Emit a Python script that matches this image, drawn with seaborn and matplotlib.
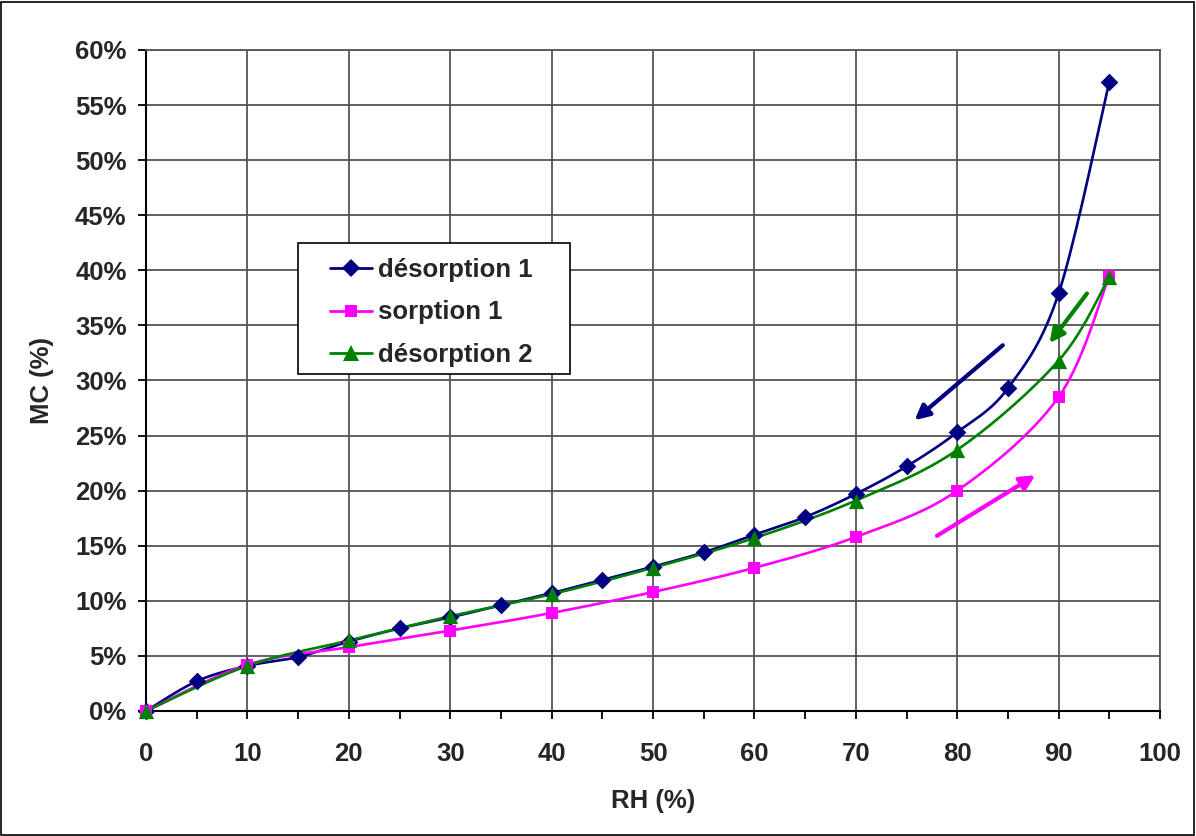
import numpy as np
import pandas as pd
import matplotlib
matplotlib.use("Agg")
import matplotlib.pyplot as plt
import seaborn as sns
from matplotlib.lines import Line2D
from matplotlib.patches import Rectangle

# ---- data ----
rh_des1 = [0, 5, 10, 15, 20, 25, 30, 35, 40, 45, 50, 55, 60, 65, 70, 75, 80, 85, 90, 95]
mc_des1 = [0, 2.7, 4.1, 4.9, 6.3, 7.5, 8.5, 9.6, 10.7, 11.9, 13.1, 14.4, 16.0, 17.6, 19.7, 22.2, 25.3, 29.3, 37.9, 57.1]
rh_sorp1 = [0, 10, 20, 30, 40, 50, 60, 70, 80, 90, 95]
mc_sorp1 = [0, 4.2, 5.8, 7.3, 8.9, 10.8, 13.0, 15.8, 20.0, 28.5, 39.5]
rh_des2 = [0, 10, 20, 30, 40, 50, 60, 70, 80, 90, 95]
mc_des2 = [0, 4.1, 6.4, 8.6, 10.6, 13.0, 15.7, 19.1, 23.7, 31.8, 39.4]
series_names = ["désorption 1", "sorption 1", "désorption 2"]
colors = ["#000080", "#FF00FF", "#008000"]
markers = ["D", "s", "^"]
msizes = [9, 9, 11]

x_ticks = list(range(0, 101, 10))
y_ticks = list(range(0, 61, 5))

FS = 18.5

sns.set_theme(style="white")
plt.rcParams['font.family'] = ['Liberation Sans', 'DejaVu Sans']
plt.rcParams['font.weight'] = 'bold'

fig = plt.figure(figsize=(11.96, 8.36), dpi=100)
ax = fig.add_axes([146/1196, 125/836, 1014/1196, 661/836])

# smooth (Excel-like Bezier) rendering of a line through the data points
def smooth(xs, ys, sx=10.14, sy=11.0, n=20):
    P = np.column_stack([np.asarray(xs, float) * sx, np.asarray(ys, float) * sy])
    out = [P[0]]
    for i in range(len(P) - 1):
        p0 = P[i - 1] if i > 0 else P[i]
        p1, p2 = P[i], P[i + 1]
        p3 = P[i + 2] if i + 2 < len(P) else P[i + 1]
        c1 = p1 + (p2 - p0) / 6.0
        c2 = p2 - (p3 - p1) / 6.0
        t = np.linspace(0, 1, n)[1:, None]
        seg = ((1 - t) ** 3) * p1 + 3 * ((1 - t) ** 2) * t * c1 + 3 * (1 - t) * t ** 2 * c2 + t ** 3 * p2
        out.extend(seg)
    out = np.array(out)
    return out[:, 0] / sx, out[:, 1] / sy

frames = []
for name, xs, ys in zip(series_names, [rh_des1, rh_sorp1, rh_des2], [mc_des1, mc_sorp1, mc_des2]):
    frames.append(pd.DataFrame({"RH": xs, "MC": ys, "serie": name}))
df = pd.concat(frames, ignore_index=True)

for name, c, m, ms in zip(series_names, colors, markers, msizes):
    sub = df[df.serie == name]
    sx, sy = smooth(sub.RH.values, sub.MC.values)
    ax.plot(sx, sy, color=c, lw=1.9, zorder=3, clip_on=False)
    sns.scatterplot(data=sub, x="RH", y="MC", color=c, marker=m, s=ms ** 2,
                    edgecolor=c, linewidth=0, ax=ax, zorder=4, clip_on=False, legend=False)

# arrows
arrow_kw = dict(arrowstyle="-|>", lw=3, mutation_scale=22, shrinkA=0, shrinkB=0)
ax.annotate("", xy=(75.8, 26.4), xytext=(84.5, 33.2), arrowprops=dict(color=colors[0], **arrow_kw), zorder=5)
ax.annotate("", xy=(87.7, 21.4), xytext=(78.0, 15.9), arrowprops=dict(color=colors[1], **arrow_kw), zorder=5)
ax.annotate("", xy=(89.1, 33.4), xytext=(92.8, 37.9), arrowprops=dict(color=colors[2], **arrow_kw), zorder=5)

ax.set_xlim(0, 100)
ax.set_ylim(0, 60)
ax.set_xticks(x_ticks)
ax.set_xticks(list(range(5, 100, 10)), minor=True)
ax.set_yticks(y_ticks)
ax.set_xticklabels([str(v) for v in x_ticks], fontsize=FS, fontweight='bold')
ax.set_yticklabels([f"{v}%" for v in y_ticks], fontsize=FS, fontweight='bold')
ax.grid(True, which='major', color='#555555', lw=1.3)
ax.set_axisbelow(True)
ax.tick_params(axis='x', which='major', direction='out', length=6, width=1.3, color='black', pad=16, bottom=True)
ax.tick_params(axis='x', which='minor', direction='out', length=6, width=1.3, color='black', bottom=True)
ax.tick_params(axis='y', which='major', direction='out', length=6, width=1.3, color='black', pad=8, left=True)
for s in ['left', 'bottom']:
    ax.spines[s].set_color('black'); ax.spines[s].set_linewidth(1.5)
for s in ['top', 'right']:
    ax.spines[s].set_color('#555555'); ax.spines[s].set_linewidth(1.3)

ax.set_xlabel("RH (%)", fontsize=FS, fontweight='bold', labelpad=17)
ax.set_ylabel("MC (%)", fontsize=FS, fontweight='bold', labelpad=15)

# legend box (drawn as a frame) and legend entries
def ax_x(px):
    return (px - 146) / 1014
def ax_y(py):
    return (711 - py) / 661

ax.add_patch(Rectangle((ax_x(298), ax_y(374)), 272 / 1014, 131 / 661, transform=ax.transAxes,
                       facecolor='white', edgecolor='black', lw=1.2, zorder=6, clip_on=False))
handles = [Line2D([0], [0], color=c, lw=2, marker=m, markersize=ms, markeredgewidth=0)
           for c, m, ms in zip(colors, markers, msizes)]
leg = ax.legend(handles, series_names, loc='upper left', bbox_to_anchor=(ax_x(330), ax_y(258)),
                frameon=False, prop={'size': FS, 'weight': 'bold'}, handlelength=1.65,
                handletextpad=0.23, borderpad=0, labelspacing=0.72, borderaxespad=0)
leg.set_zorder(7)

fig.patches.append(Rectangle((0.001, 0.001), 0.997, 0.997, transform=fig.transFigure,
                             fill=False, edgecolor='black', lw=1.2))

fig.savefig("out.png", dpi=100)
